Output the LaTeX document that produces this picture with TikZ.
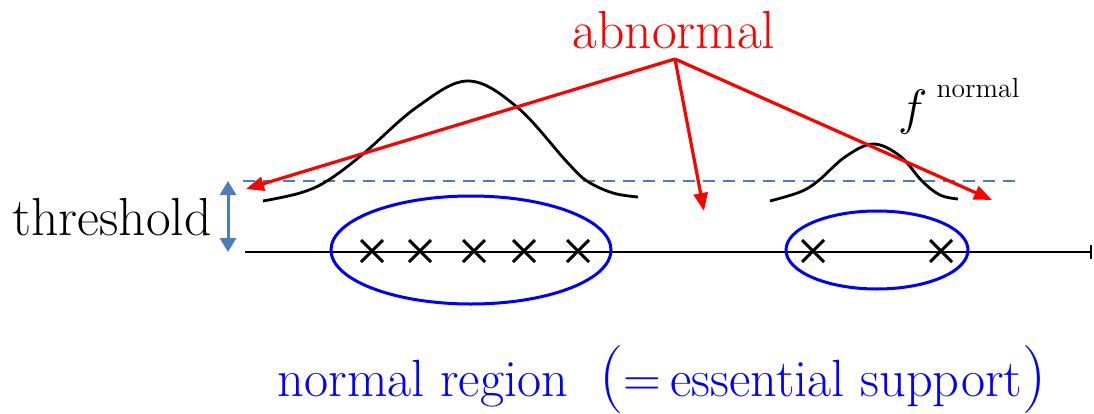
\documentclass[tikz,border=0pt]{standalone}
\usetikzlibrary{arrows.meta}
\definecolor{steel}{HTML}{4A7EBB}

\begin{document}
\begin{tikzpicture}[x=0.5pt,y=-0.5pt]
\tikzset{lbl/.style={inner sep=0pt,font=\fontsize{26.8}{30}\selectfont},
  ptr/.style={red,line width=1.6pt,-{Triangle[length=9pt,width=7pt]}},
  region/.style={blue,line width=1.5pt},
  xmark/.style={line width=1.5pt}}
\useasboundingbox (0,0) rectangle (1094,413);
% labels
\node[lbl,red,anchor=base] (abn) at (674,48) {abnormal};
\node[lbl,anchor=base] (thr) at (112,235) {threshold};
\node[lbl,anchor=base west] (fnorm) at (898,124) {{\fontsize{38}{38}\selectfont$f$}\,\raisebox{13.5pt}{\fontsize{13.8}{16}\selectfont normal}};
\node[lbl,blue,anchor=base] (reg) at (662,396) {\fontsize{26.2}{30}\selectfont normal region\ \ {\fontsize{34}{34}\selectfont(}=\,essential support{\fontsize{34}{34}\selectfont)}};
% axis and threshold
\coordinate (a0) at (245,252);
\coordinate (a1) at (1092,252);
\draw[line width=1.4pt,-{Bar[width=7pt,line width=0.9pt]}] (a0) -- (a1);
\draw[steel,line width=1.3pt,dash pattern=on 6pt off 4pt] (243,181) -- (1022,181);
\coordinate (th0) at (228,181);
\coordinate (th1) at (228,252);
\draw[steel,line width=1.5pt,{Triangle[length=7pt,width=8pt]}-{Triangle[length=7pt,width=8pt]}] (th0) -- (th1);
% densities
\draw[line width=1.4pt] plot[smooth,tension=0.6] coordinates {(263,201) (300,193) (327,181) (363,154) (417,107) (468,81) (517,107) (567,162) (587,181) (613,193) (638,197)};
\draw[line width=1.4pt] plot[smooth,tension=0.6] coordinates {(770,201) (800,192) (818,181) (845,157) (873,144) (900,156) (922,181) (940,195) (958,199)};
% normal regions
\draw[region] (471,250) ellipse [x radius=140,y radius=54];
\draw[region] (877,250) ellipse [x radius=91,y radius=39];
\foreach \x in {372,420,474,524,578,813,941}
  \draw[xmark] (\x,251) +(-11,-11) -- +(11,11) +(-11,11) -- +(11,-11);
% pointers
\coordinate (src) at (675,59);
\coordinate (t1) at (246,189);
\coordinate (t2) at (704,211);
\coordinate (t3) at (992,200);
\foreach \t in {t1,t2,t3}
  \draw[ptr] (src) -- (\t);
\end{tikzpicture}
\end{document}
